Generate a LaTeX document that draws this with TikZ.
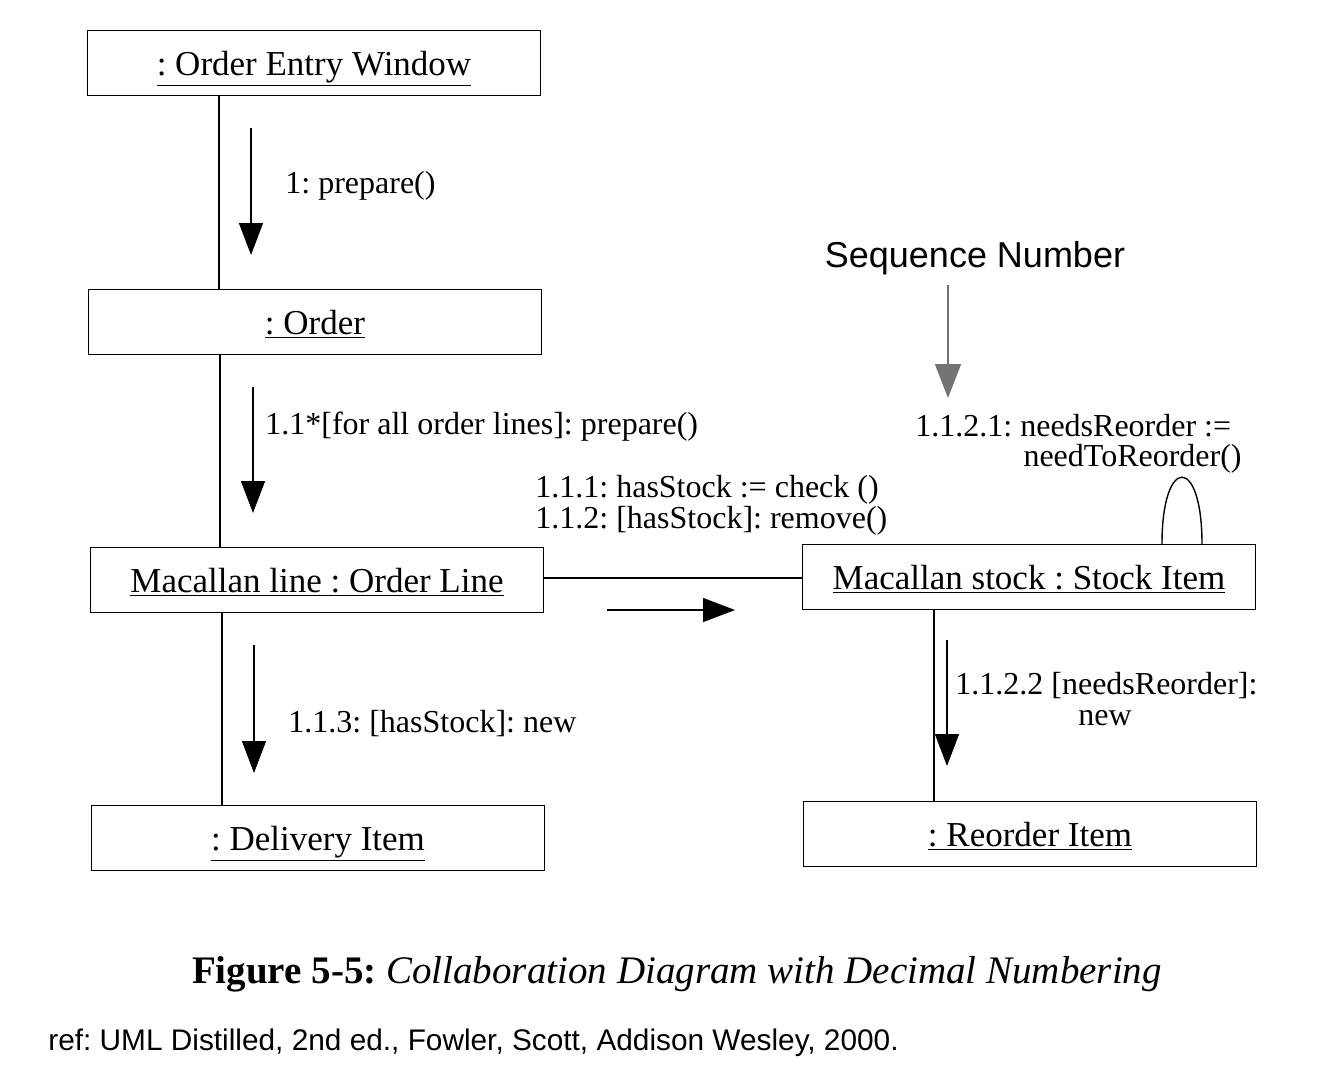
\documentclass[tikz,border=0pt]{standalone}
\usepackage{fontspec}
\setmainfont{Liberation Serif}
\newfontfamily\arialf{Liberation Sans}
\usetikzlibrary{arrows.meta}
\frenchspacing
\begin{document}
\begin{tikzpicture}[x=0.5pt,y=-0.5pt,
  obj/.style={draw,line width=0.7pt,minimum width=226.5pt,minimum height=32.5pt,inner sep=0pt,text height=15pt,text depth=3pt,font=\fontsize{17.5}{20}\selectfont},
  lbl/.style={inner sep=0pt,font=\fontsize{16}{19}\selectfont},
  msg/.style={line width=0.7pt,-{Triangle[length=16pt,width=12pt]}},
  link/.style={line width=0.7pt}]
\useasboundingbox[fill=white] (0,0) rectangle (1330,1084);
% objects
\node[obj] (oew) at (314,63) {\underline{: Order Entry Window}};
\node[obj] (ord) at (315,322) {\underline{: Order}};
\node[obj] (ol) at (317,580) {\underline{Macallan line : Order Line}};
\node[obj] (di) at (318,838) {\underline{: Delivery Item}};
\node[obj] (si) at (1029,577) {\underline{Macallan stock : Stock Item}};
\node[obj] (ri) at (1030,834) {\underline{: Reorder Item}};
% lifeline x positions
\coordinate (x1) at (219,0);
\coordinate (x2) at (220,0);
\coordinate (x3) at (222,0);
\coordinate (x4) at (934,0);
\coordinate (c1) at (1162,0);
\coordinate (c2) at (1202,0);
\draw[link] (oew.south -| x1) -- (ord.north -| x1);
\draw[link] (ord.south -| x2) -- (ol.north -| x2);
\draw[link] (ol.south -| x3) -- (di.north -| x3);
\draw[link] (si.south -| x4) -- (ri.north -| x4);
\draw[link] (ol.east |- 0,578) -- (si.west |- 0,578);
% self loop
\draw[link] (si.north -| c1) .. controls (1162,455) and (1202,455) .. (si.north -| c2);
% message arrows
\coordinate (a1s) at (251,128); \coordinate (a1e) at (251,255);
\coordinate (a2s) at (253,387); \coordinate (a2e) at (253,513);
\coordinate (a3s) at (254,645); \coordinate (a3e) at (254,773);
\coordinate (a4s) at (607,610); \coordinate (a4e) at (735,610);
\coordinate (a5s) at (947,640); \coordinate (a5e) at (947,766);
\draw[msg] (a1s) -- (a1e);
\draw[msg] (a2s) -- (a2e);
\draw[msg] (a3s) -- (a3e);
\draw[msg] (a4s) -- (a4e);
\draw[msg] (a5s) -- (a5e);
% labels
\node[lbl,anchor=west] (l1) at (285,186) {1: prepare()};
\node[lbl,anchor=west] (l2) at (265,427) {1.1*[for all order lines]: prepare()};
\node[lbl,anchor=west] (l3) at (288,724) {1.1.3: [hasStock]: new};
\node[lbl,anchor=west] (l4) at (535,490) {1.1.1: hasStock := check ()};
\node[lbl,anchor=west] (l5) at (535,521) {1.1.2: [hasStock]: remove()};
\node[lbl,anchor=west] (l6) at (955,686) {1.1.2.2 [needsReorder]:};
\node[lbl] (l7) at (1105,718) {new};
\node[lbl,anchor=west] (l8) at (915,426) {1.1.2.1: needsReorder :=};
\node[lbl,anchor=east] (l9) at (1242,459) {needToReorder()};
% sequence number annotation
\node[inner sep=0pt,font=\arialf\fontsize{18}{21}\selectfont] (seq) at (975,258) {Sequence Number};
\coordinate (g1) at (948,285);
\coordinate (g2) at (948,398);
\draw[line width=0.8pt,draw=black!55,fill=black!55,-{Triangle[length=17pt,width=13pt]}] (g1) -- (g2);
% caption
\node[inner sep=0pt,font=\fontsize{19.5}{23}\selectfont] (cap) at (677,974) {\textbf{Figure 5-5:} \textit{Collaboration Diagram with Decimal Numbering}};
\node[inner sep=0pt,anchor=west,font=\arialf\fontsize{14.9}{18}\selectfont] (ref) at (48,1043) {ref: UML Distilled, 2nd ed., Fowler, Scott, Addison Wesley, 2000.};
\end{tikzpicture}
\end{document}
